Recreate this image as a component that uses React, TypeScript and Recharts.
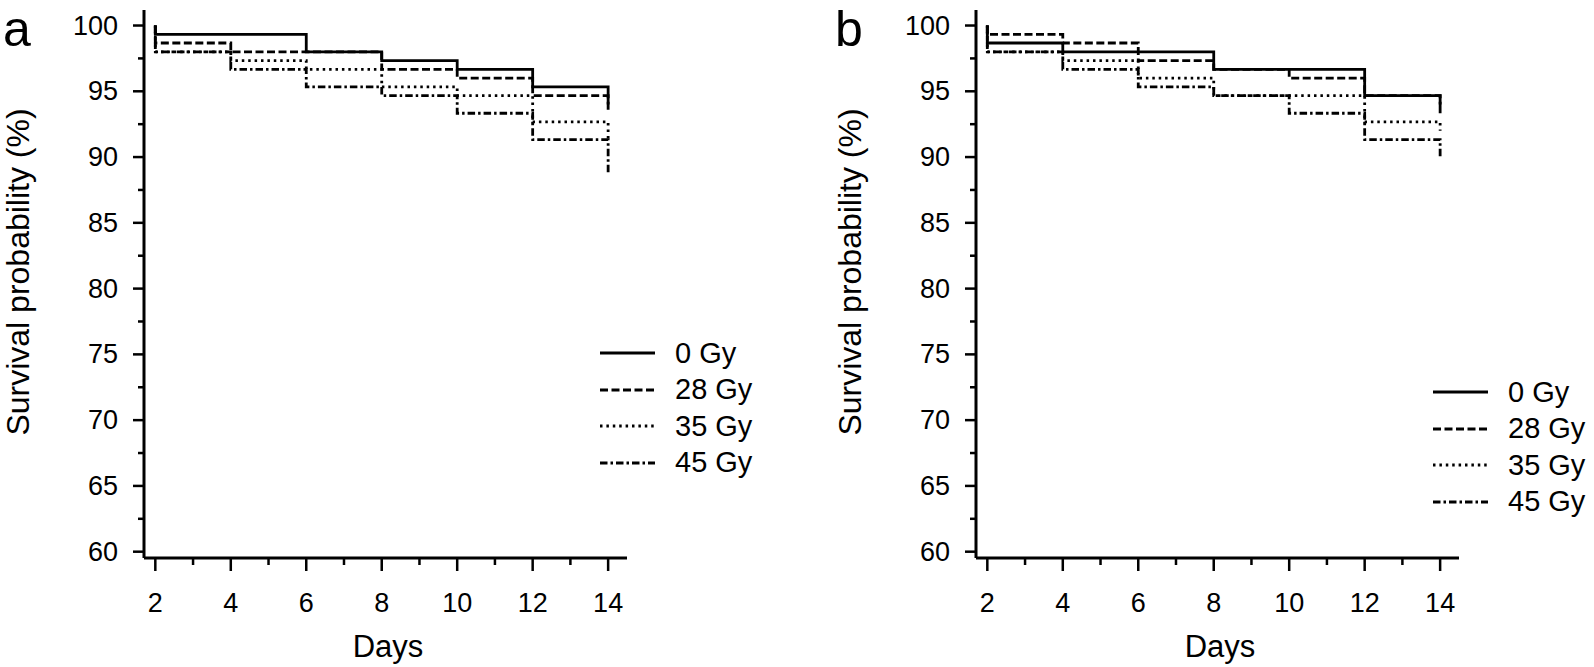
import { Label, Legend, Line, LineChart, XAxis, YAxis } from "recharts";

// survival (%) after the step on each day, starting from 100 % on day 2
const days = [2, 4, 6, 8, 10, 12, 14];
const startValue = 100;
const groups = ["0 Gy", "28 Gy", "35 Gy", "45 Gy"];

const a0Gy = [99.33, 99.33, 98.0, 97.33, 96.67, 95.33, 94.0];
const a28Gy = [98.67, 98.0, 98.0, 96.67, 96.0, 94.67, 93.33];
const a35Gy = [98.0, 97.33, 96.67, 95.33, 94.67, 92.67, 91.33];
const a45Gy = [98.0, 96.67, 95.33, 94.67, 93.33, 91.33, 88.67];

const b0Gy = [98.67, 98.0, 98.0, 96.67, 96.67, 94.67, 93.33];
const b28Gy = [99.33, 98.67, 97.33, 96.67, 96.0, 94.67, 94.0];
const b35Gy = [98.0, 97.33, 96.0, 94.67, 94.67, 92.67, 92.0];
const b45Gy = [98.0, 96.67, 95.33, 94.67, 93.33, 91.33, 90.0];

const yTicks = [60, 62.5, 65, 67.5, 70, 72.5, 75, 77.5, 80, 82.5, 85, 87.5, 90, 92.5, 95, 97.5, 100];
const xTicks = [2, 3, 4, 5, 6, 7, 8, 9, 10, 11, 12, 13, 14];

const dashes = [undefined, "8 3.5", "2.5 3.9", "7.5 3 2.5 3"];
const font = "'Liberation Sans', Arial, sans-serif";
const chartW = 797;
const chartH = 667;
const plotW = 483;

const toPoints = (vals: number[]) => [
  { day: days[0], v: startValue },
  ...days.map((d, i) => ({ day: d, v: vals[i] })),
];

const YTick = (props: any) => {
  const { x, y, payload } = props;
  const major = payload.value % 5 === 0;
  return (
    <g>
      <line x1={x} x2={x - (major ? 11 : 6)} y1={y} y2={y} stroke="#000" strokeWidth={2.5} />
      {major && (
        <text x={x - 26} y={y} textAnchor="end" dominantBaseline="central" fontSize={27} fontFamily={font} fill="#000">
          {payload.value}
        </text>
      )}
    </g>
  );
};

const XTick = (props: any) => {
  const { x, y, payload } = props;
  const major = payload.value % 2 === 0;
  return (
    <g>
      <line x1={x} x2={x} y1={y} y2={y + (major ? 13 : 7)} stroke="#000" strokeWidth={2.5} />
      {major && (
        <text x={x} y={y + 53.5} textAnchor="middle" fontSize={27} fontFamily={font} fill="#000">
          {payload.value}
        </text>
      )}
    </g>
  );
};

const LegendBox = () => (
  <div style={{ fontFamily: font, fontSize: 29, color: "#000" }}>
    {groups.map((g, i) => (
      <div key={g} style={{ display: "flex", alignItems: "center", height: 36.5 }}>
        <svg width={55} height={6}>
          <line x1={0} x2={55} y1={3} y2={3} stroke="#000" strokeWidth={2.8} strokeDasharray={dashes[i]} />
        </svg>
        <span style={{ marginLeft: 20, lineHeight: 1 }}>{g}</span>
      </div>
    ))}
  </div>
);

type PanelProps = {
  letter: string;
  series: number[][];
  plotLeft: number;
  legendLeft: number;
  legendTop: number;
};

function Panel({ letter, series, plotLeft, legendLeft, legendTop }: PanelProps) {
  const order = [3, 2, 1, 0];
  return (
    <LineChart
      width={chartW}
      height={chartH}
      margin={{ top: 10, right: chartW - plotLeft - plotW, left: 0, bottom: 0 }}
    >
      <XAxis
        type="number"
        dataKey="day"
        domain={[1.7, 14.5]}
        ticks={xTicks}
        interval={0}
        allowDataOverflow
        height={109}
        tickSize={0}
        tickMargin={0}
        tickLine={false}
        axisLine={{ stroke: "#000", strokeWidth: 3 }}
        tick={(p: any) => <XTick {...p} />}
      >
        <Label
          content={() => (
            <text x={plotLeft + 244} y={657} textAnchor="middle" fontSize={31} fontFamily={font} fill="#000">
              Days
            </text>
          )}
        />
      </XAxis>
      <YAxis
        type="number"
        domain={[59.52, 101.18]}
        ticks={yTicks}
        interval={0}
        allowDataOverflow
        width={plotLeft}
        tickSize={0}
        tickMargin={0}
        tickLine={false}
        axisLine={{ stroke: "#000", strokeWidth: 3 }}
        tick={(p: any) => <YTick {...p} />}
      >
        <Label
          content={() => (
            <g>
              <text x={plotLeft - 141} y={46} fontSize={50} fontFamily={font} fill="#000">
                {letter}
              </text>
              <text
                transform={`translate(${plotLeft - 126},272) rotate(-90)`}
                textAnchor="middle"
                dominantBaseline="central"
                fontSize={32}
                fontFamily={font}
                fill="#000"
              >
                Survival probability (%)
              </text>
            </g>
          )}
        />
      </YAxis>
      <Legend
        layout="vertical"
        align="center"
        verticalAlign="middle"
        content={() => <LegendBox />}
        wrapperStyle={{ left: legendLeft, top: legendTop, width: "auto" }}
      />
      {order.map((i) => (
        <Line
          key={groups[i]}
          name={groups[i]}
          data={toPoints(series[i])}
          dataKey="v"
          type="stepAfter"
          stroke="#000"
          strokeWidth={2.8}
          strokeDasharray={dashes[i]}
          dot={false}
          activeDot={false}
          isAnimationActive={false}
        />
      ))}
    </LineChart>
  );
}

export default function App() {
  return (
    <div style={{ position: "absolute", left: 0, top: 0, width: 1594, height: 667, background: "#fff", fontFamily: font }}>
      <div style={{ position: "absolute", left: 0, top: 0 }}>
        <Panel letter="a" series={[a0Gy, a28Gy, a35Gy, a45Gy]} plotLeft={144} legendLeft={600} legendTop={334.75} />
      </div>
      <div style={{ position: "absolute", left: chartW, top: 0 }}>
        <Panel letter="b" series={[b0Gy, b28Gy, b35Gy, b45Gy]} plotLeft={179} legendLeft={636} legendTop={373.75} />
      </div>
    </div>
  );
}
